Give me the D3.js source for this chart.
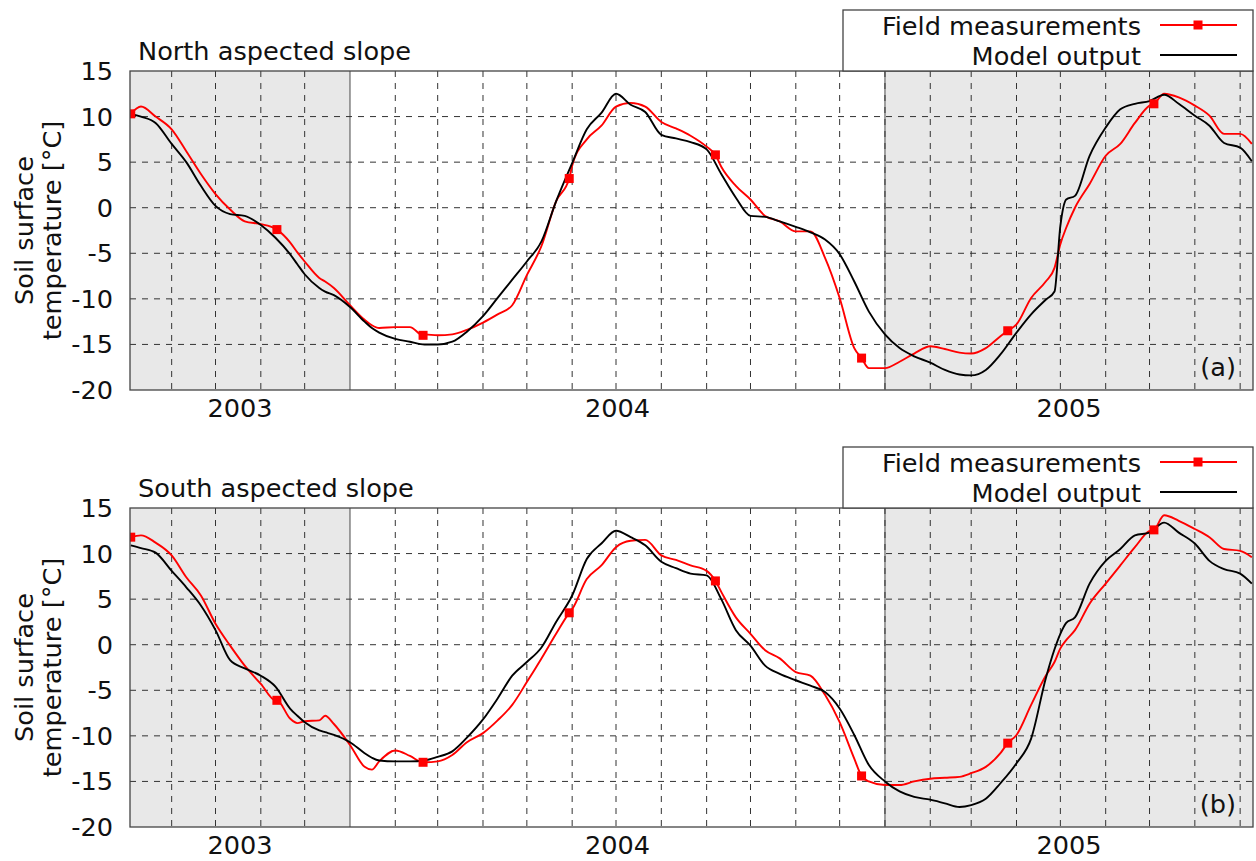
<!DOCTYPE html>
<html><head><meta charset="utf-8">
<script src="https://cdn.jsdelivr.net/npm/d3@7"></script>
<style>
body{margin:0;background:#fff}
svg{display:block;font-family:"DejaVu Sans",sans-serif}
</style>
</head><body>
<svg id="chart" width="1256" height="861"></svg>
<script>
// ---------------- data ----------------
const sampleDates = [
 "2003-08-04","2003-08-11","2003-08-21","2003-09-01","2003-09-11","2003-09-21","2003-10-01","2003-10-11","2003-10-21",
 "2003-11-01","2003-11-11","2003-11-21","2003-11-26","2003-12-01","2003-12-11","2003-12-15","2003-12-21",
 "2004-01-01","2004-01-11","2004-01-16","2004-01-21","2004-02-01","2004-02-11","2004-02-21","2004-03-01","2004-03-11","2004-03-21",
 "2004-04-01","2004-04-11","2004-04-21","2004-05-01","2004-05-11","2004-05-21","2004-06-01","2004-06-11","2004-06-21",
 "2004-07-01","2004-07-11","2004-07-21","2004-08-01","2004-08-11","2004-08-21","2004-09-01","2004-09-11","2004-09-21",
 "2004-10-01","2004-10-11","2004-10-21","2004-11-01","2004-11-11","2004-11-21","2004-12-01","2004-12-11","2004-12-21",
 "2005-01-01","2005-01-11","2005-01-21","2005-02-01","2005-02-11","2005-02-21","2005-03-01","2005-03-11","2005-03-21",
 "2005-04-01","2005-04-11","2005-04-21","2005-04-27","2005-05-01","2005-05-05","2005-05-11","2005-05-21",
 "2005-06-01","2005-06-11","2005-06-21","2005-07-01","2005-07-11","2005-07-21","2005-08-01","2005-08-11","2005-08-21",
 "2005-09-01","2005-09-09"
];

const northField = [
 10.4,11.1,10.0,8.6,6.2,3.7,1.5,-0.2,-1.5,
 -1.8,-2.3,-3.8,-4.9,-5.9,-7.7,-8.1,-8.8,
 -10.7,-12.3,-12.9,-13.2,-13.1,-13.1,-13.9,-14.0,-13.9,-13.4,
 -12.6,-11.7,-10.7,-7.4,-4.2,0.7,4.6,7.5,9.0,
 11.1,11.5,11.1,9.4,8.7,7.9,6.7,4.5,2.4,
 0.9,-0.9,-1.5,-2.6,-2.6,-5.5,-9.9,-15.4,-17.6,
 -17.6,-16.9,-16.0,-15.2,-15.5,-15.9,-16.0,-15.4,-14.1,
 -12.8,-9.9,-8.1,-6.6,-4.0,-2.2,0.0,2.6,
 5.7,7.0,9.3,11.2,12.5,12.1,11.2,10.1,8.1,
 8.1,7.0
];

const northModel = [
 10.3,10.0,9.3,7.0,5.0,2.4,0.2,-0.7,-0.9,
 -1.9,-3.3,-5.1,-6.2,-7.3,-8.8,-9.2,-9.6,
 -10.9,-12.5,-13.2,-13.7,-14.4,-14.7,-15.0,-15.0,-14.7,-13.6,
 -11.9,-9.9,-7.9,-5.9,-3.7,0.7,4.9,8.6,10.4,
 12.5,11.3,10.5,8.0,7.6,7.2,6.4,3.7,1.1,
 -0.9,-1.0,-1.5,-2.1,-2.7,-3.5,-5.1,-8.1,-11.4,
 -13.9,-15.4,-16.3,-17.0,-17.8,-18.3,-18.4,-17.8,-16.1,
 -13.7,-11.7,-10.1,-9.2,-2.0,0.9,1.3,5.7,
 8.8,10.8,11.4,11.7,12.4,11.4,10.1,9.0,7.1,
 6.6,5.1
];

const southField = [
 11.8,12.0,11.2,9.8,7.4,5.4,2.3,-0.1,-2.3,
 -4.3,-6.1,-8.1,-8.6,-8.4,-8.3,-7.8,-8.7,
 -11.0,-13.4,-13.7,-12.8,-11.6,-12.2,-12.9,-12.8,-12.1,-10.7,
 -9.7,-8.3,-6.6,-4.1,-1.5,1.2,3.9,7.2,8.7,
 10.7,11.4,11.5,9.8,9.3,8.7,8.1,5.8,3.0,
 1.2,-0.6,-1.5,-3.0,-3.4,-5.5,-8.5,-12.5,-15.0,
 -15.4,-15.4,-15.0,-14.7,-14.6,-14.5,-14.1,-13.4,-11.9,
 -9.9,-6.6,-3.4,-1.9,-0.4,0.5,1.6,4.5,
 6.7,8.7,10.7,12.5,14.2,13.6,12.7,11.8,10.5,
 10.3,9.6
];

const southModel = [
 10.9,10.6,10.1,8.1,6.3,4.3,1.6,-1.7,-2.6,
 -3.4,-4.6,-7.0,-7.8,-8.5,-9.4,-9.6,-9.9,
 -10.7,-11.9,-12.4,-12.7,-12.8,-12.8,-12.7,-12.3,-11.7,-10.2,
 -8.2,-5.9,-3.4,-1.9,-0.3,2.5,5.4,9.4,11.1,
 12.5,11.8,10.9,9.1,8.4,7.8,7.6,5.0,1.6,
 -0.1,-2.3,-3.2,-3.9,-4.5,-5.2,-7.0,-9.9,-13.2,
 -15.0,-16.1,-16.7,-17.0,-17.4,-17.8,-17.6,-16.9,-15.2,
 -13.0,-10.3,-3.7,-0.5,1.2,2.4,3.0,6.7,
 9.2,10.5,12.0,12.3,13.4,12.3,11.1,9.2,8.3,
 7.8,6.7
];

// field-measurement symbols (one every 100 days)
const markerDates = ["2003-08-04","2003-11-12","2004-02-20","2004-05-30","2004-09-07","2004-12-16","2005-03-26","2005-07-04"];
const northMarkers = [10.3,-2.4,-14.0,3.2,5.8,-16.5,-13.5,11.4];
const southMarkers = [11.8,-6.1,-12.9,3.5,7.0,-14.4,-10.8,12.6];

const yTicks = [15,10,5,0,-5,-10,-15,-20];
const yearLabels = ["2003","2004","2005"];
const seriesNames = ["Field measurements","Model output"];
const panelTitles = ["North aspected slope","South aspected slope"];
const panelTags = ["(a)","(b)"];
const yAxisTitle = ["Soil surface","temperature [°C]"];

// ---------------- layout ----------------
const left = 130, right = 1253, plotH = 319;
const panelTops = [71, 508];
const FONT = 25.6;
const shadeColor = "#e8e8e8";
const textColor = "#111";

const parse = d3.utcParse("%Y-%m-%d");
const sDates = sampleDates.map(parse);
const mDates = markerDates.map(parse);

const x = d3.scaleUtc()
  .domain([new Date(Date.UTC(2003,7,3,12)), new Date(Date.UTC(2005,8,9,19))])
  .range([left, right]);

const svg = d3.select("#chart");

function buildField(vals, mvals){
  const pts = sDates.map((d,i)=>({d, v:vals[i]}));
  mDates.forEach((d,i)=>{
    const j = pts.findIndex(p=>+p.d === +d);
    if (j >= 0) pts[j].v = mvals[i]; else pts.push({d, v:mvals[i]});
  });
  pts.sort((a,b)=>a.d-b.d);
  return pts;
}

const panels = [
  {top: panelTops[0], field: buildField(northField, northMarkers), model: sDates.map((d,i)=>({d, v:northModel[i]})), markers: mDates.map((d,i)=>({d, v:northMarkers[i]})), title: panelTitles[0], tag: panelTags[0]},
  {top: panelTops[1], field: buildField(southField, southMarkers), model: sDates.map((d,i)=>({d, v:southModel[i]})), markers: mDates.map((d,i)=>({d, v:southMarkers[i]})), title: panelTitles[1], tag: panelTags[1]}
];

const [d0, d1] = x.domain();
const years = d3.utcYear.range(d3.utcYear.floor(d0), d1);   // 2003, 2004, 2005
const months = d3.utcMonth.range(d3.utcMonth.ceil(d0), d1);

panels.forEach((p, pi) => {
  const top = p.top, bottom = top + plotH;
  const y = d3.scaleLinear().domain([-20, 15]).range([bottom, top]);
  const g = svg.append("g");

  const clipId = "clip" + pi;
  g.append("clipPath").attr("id", clipId).append("rect")
    .attr("x", left).attr("y", top).attr("width", right-left).attr("height", plotH);

  g.append("rect").attr("x", left).attr("y", top).attr("width", right-left).attr("height", plotH).attr("fill", "#fff");
  years.forEach((yr, i) => {
    const a = Math.max(x(yr), left);
    const b = Math.min(x(d3.utcYear.offset(yr, 1)), right);
    if (i % 2 === 0) {
      g.append("rect").attr("x", a).attr("y", top).attr("width", b-a).attr("height", plotH).attr("fill", shadeColor);
    }
    if (i > 0) {
      g.append("line").attr("x1", x(yr)).attr("x2", x(yr)).attr("y1", top).attr("y2", bottom)
        .attr("stroke", "#666").attr("stroke-width", 1.2);
    }
  });

  const grid = g.append("g").attr("stroke", "#333").attr("stroke-width", 1).attr("stroke-dasharray", "6,6");
  yTicks.filter(t => t > -20 && t < 15).forEach(t => {
    grid.append("line").attr("x1", left).attr("x2", right).attr("y1", y(t)).attr("y2", y(t));
  });
  months.forEach(m => {
    const isYear = m.getUTCMonth() === 0;
    const idx = years.findIndex(yr => +yr === +m);
    if (isYear && idx % 2 === 1) return;
    grid.append("line").attr("x1", x(m)).attr("x2", x(m)).attr("y1", top).attr("y2", bottom);
  });

  const line = d3.line().x(d => x(d.d)).y(d => y(d.v)).curve(d3.curveMonotoneX);
  const lg = g.append("g").attr("clip-path", `url(#${clipId})`);
  lg.append("path").datum(p.field).attr("d", line).attr("fill", "none").attr("stroke", "#ff0000").attr("stroke-width", 1.9).attr("stroke-linejoin", "round");
  lg.append("path").datum(p.model).attr("d", line).attr("fill", "none").attr("stroke", "#000").attr("stroke-width", 1.9).attr("stroke-linejoin", "round");
  lg.selectAll("rect.mk").data(p.markers).enter().append("rect").attr("class", "mk")
    .attr("x", d => x(d.d) - 4.5).attr("y", d => y(d.v) - 4.5).attr("width", 9).attr("height", 9).attr("fill", "#ff0000");

  g.append("rect").attr("x", left).attr("y", top).attr("width", right-left).attr("height", plotH)
    .attr("fill", "none").attr("stroke", "#444").attr("stroke-width", 1.3);

  g.selectAll("text.yt").data(yTicks).enter().append("text").attr("class", "yt")
    .attr("x", 113).attr("y", d => y(d) + 9).attr("text-anchor", "end")
    .attr("font-size", FONT).attr("fill", textColor).text(d => d);

  years.forEach((yr, i) => {
    const a = Math.max(x(yr), left);
    const b = Math.min(x(d3.utcYear.offset(yr, 1)), right);
    g.append("text").attr("x", (a+b)/2).attr("y", bottom + 27).attr("text-anchor", "middle")
      .attr("font-size", FONT).attr("fill", textColor).text(yearLabels[i]);
  });

  const cy = (top + bottom) / 2;
  [33, 61].forEach((bx, i) => {
    g.append("text").attr("transform", `translate(${bx},${cy}) rotate(-90)`).attr("text-anchor", "middle")
      .attr("font-size", FONT).attr("fill", textColor).text(yAxisTitle[i]);
  });

  g.append("text").attr("x", 138).attr("y", top - 11).attr("font-size", FONT).attr("fill", textColor).text(p.title);

  g.append("text").attr("x", 1236).attr("y", bottom - 14).attr("text-anchor", "end")
    .attr("font-size", FONT).attr("fill", textColor).text(p.tag);

  const lt = top - 61;
  g.append("rect").attr("x", 843).attr("y", lt).attr("width", right - 843).attr("height", 61)
    .attr("fill", "#fff").attr("stroke", "#444").attr("stroke-width", 1.3);
  const colors = ["#ff0000", "#000"];
  seriesNames.forEach((name, i) => {
    const ly = lt + 15 + i * 30;
    g.append("text").attr("x", 1141).attr("y", ly + 10).attr("text-anchor", "end")
      .attr("font-size", FONT).attr("fill", textColor).text(name);
    g.append("line").attr("x1", 1160).attr("x2", 1237).attr("y1", ly).attr("y2", ly)
      .attr("stroke", colors[i]).attr("stroke-width", 1.9);
    if (i === 0) {
      g.append("rect").attr("x", 1198 - 4.5).attr("y", ly - 4.5).attr("width", 9).attr("height", 9).attr("fill", "#ff0000");
    }
  });
});
</script>
</body></html>
